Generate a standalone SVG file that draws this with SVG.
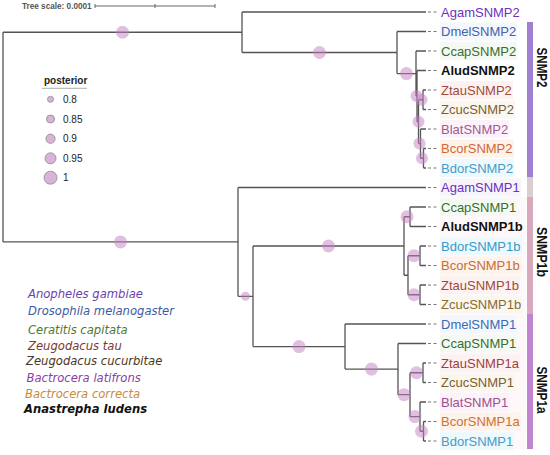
<svg xmlns="http://www.w3.org/2000/svg" width="550" height="455" viewBox="0 0 550 455">
<style>
.br{fill:none;stroke:#555;stroke-width:1.3}
.ds{fill:none;stroke:#777;stroke-width:1;stroke-dasharray:3 2.5}
.pp{fill:#c27fc2;fill-opacity:0.5}
.lg{fill:#d9b3d9;stroke:#8a8a8a;stroke-width:0.8}
.lf{font-family:"Liberation Sans",Arial,sans-serif;font-size:13px}
.bd{font-weight:bold}
.sp{font-family:"DejaVu Sans",sans-serif;font-size:11.6px;font-style:italic}
.lt{font-family:"Liberation Sans",Arial,sans-serif;font-size:10px;fill:#222}
.cl{font-family:"Liberation Sans",Arial,sans-serif;font-size:15px;font-weight:bold;fill:#111}
</style>
<rect width="550" height="455" fill="#fff"/>
<g id="scale">
<text x="22" y="9" font-family="Liberation Sans, Arial, sans-serif" font-size="8.2" font-weight="bold" fill="#555">Tree scale: 0.0001</text>
<path d="M95 6 H215 M95 4 V8 M155 4 V8 M215 4 V8" fill="none" stroke="#666" stroke-width="1"/>
</g>
<g id="label-backgrounds">
<rect x="440" y="197" width="86" height="252" fill="#fef8fa"/>
<rect x="440" y="22.5" width="77" height="18" fill="#f4f7fc"/>
<rect x="440" y="42" width="77" height="18" fill="#f5f9f3"/>
<rect x="440" y="81" width="73" height="18" fill="#fdf2f2"/>
<rect x="440" y="100.5" width="75" height="18" fill="#faf7f1"/>
<rect x="440" y="120" width="69" height="18" fill="#fcf3fa"/>
<rect x="440" y="139.5" width="74" height="18" fill="#fdf3ea"/>
<rect x="440" y="159" width="74" height="18" fill="#edf9fc"/>
<rect x="440" y="178.5" width="81" height="18" fill="#f7f4fc"/>
<rect x="440" y="198" width="77" height="18" fill="#f5f9f3"/>
<rect x="440" y="237" width="82" height="18" fill="#edf9fc"/>
<rect x="440" y="256.5" width="81" height="18" fill="#fdf3ea"/>
<rect x="440" y="276" width="80" height="18" fill="#fdf2f2"/>
<rect x="440" y="295.5" width="82" height="18" fill="#faf7f1"/>
<rect x="440" y="315" width="77" height="18" fill="#f4f7fc"/>
<rect x="440" y="334.5" width="77" height="18" fill="#f5f9f3"/>
<rect x="440" y="354" width="80" height="18" fill="#fdf2f2"/>
<rect x="440" y="373.5" width="75" height="18" fill="#faf7f1"/>
<rect x="440" y="393" width="69" height="18" fill="#fcf3fa"/>
<rect x="440" y="412.5" width="81" height="18" fill="#fdf3ea"/>
<rect x="440" y="432" width="74" height="18" fill="#edf9fc"/>
</g>
<g id="connectors">
<path class="br" d="M3 32.25 V241.9 M3 32.25 H242 M242 12 V52.5 M242 12 H426 M242 52.5 H397 M397 31.5 V73.55 M397 31.5 H426 M397 73.55 H416 M416 51 V96.1 M416 51 H426 M416 96.1 H417 M417 70.5 V121.7 M417 70.5 H426 M417 121.7 H418.5 M418.5 99.75 V143.6 M418.5 99.75 H423 M423 90 V109.5 M423 90 H426 M423 109.5 H426 M418.5 143.6 H420.5 M420.5 129 V158.25 M420.5 129 H426 M420.5 158.25 H423.5 M423.5 148.5 V168 M423.5 148.5 H426 M423.5 168 H426"/>
<path class="br" d="M3 241.9 H238 M238 187.5 V296.3 M238 187.5 H426 M238 296.3 H253 M253 246 V346.55 M253 246 H404 M404 216.75 V275.25 M404 216.75 H410 M410 207 V226.5 M410 207 H426 M410 226.5 H426 M404 275.25 H408 M408 255.75 V294.75 M408 255.75 H420 M420 246 V265.5 M420 246 H426 M420 265.5 H426 M408 294.75 H420 M420 285 V304.5 M420 285 H426 M420 304.5 H426 M253 346.55 H345 M345 324 V369.1 M345 324 H426 M345 369.1 H398 M398 343.5 V394.7 M398 343.5 H426 M398 394.7 H410 M410 372.75 V416.6 M410 372.75 H423 M423 363 V382.5 M423 363 H426 M423 382.5 H426 M410 416.6 H420 M420 402 V431.25 M420 402 H426 M420 431.25 H423.5 M423.5 421.5 V441 M423.5 421.5 H426 M423.5 441 H426"/>
<path class="ds" d="M428 12 H439 M428 31.5 H439 M428 51 H439 M428 70.5 H439 M428 90 H439 M428 109.5 H439 M428 129 H439 M428 148.5 H439 M428 168 H439 M428 187.5 H439 M428 207 H439 M428 226.5 H439 M428 246 H439 M428 265.5 H439 M428 285 H439 M428 304.5 H439 M428 324 H439 M428 343.5 H439 M428 363 H439 M428 382.5 H439 M428 402 H439 M428 421.5 H439 M428 441 H439"/>
</g>
<g id="support">
<circle class="pp" cx="122.5" cy="32.25" r="6.5"/>
<circle class="pp" cx="319.5" cy="52.5" r="6.5"/>
<circle class="pp" cx="406.5" cy="73.55" r="6.5"/>
<circle class="pp" cx="416.5" cy="96.1" r="6"/>
<circle class="pp" cx="418.5" cy="121.7" r="6"/>
<circle class="pp" cx="421.5" cy="99.75" r="6"/>
<circle class="pp" cx="419.5" cy="143.6" r="6"/>
<circle class="pp" cx="422" cy="158.25" r="6"/>
<circle class="pp" cx="120.5" cy="241.9" r="6.5"/>
<circle class="pp" cx="245.5" cy="296.3" r="4.5"/>
<circle class="pp" cx="328.5" cy="246" r="6.5"/>
<circle class="pp" cx="299" cy="346.55" r="6.5"/>
<circle class="pp" cx="407" cy="216.75" r="6.5"/>
<circle class="pp" cx="414" cy="255.75" r="6.5"/>
<circle class="pp" cx="414" cy="294.75" r="6.5"/>
<circle class="pp" cx="371.5" cy="369.1" r="6.5"/>
<circle class="pp" cx="404" cy="394.7" r="6.5"/>
<circle class="pp" cx="416.5" cy="372.75" r="6.5"/>
<circle class="pp" cx="415" cy="416.6" r="6.5"/>
<circle class="pp" cx="421.5" cy="431.25" r="6.5"/>
</g>
<g id="leaves">
<text class="lf" x="441" y="16.6" fill="#7030c0">AgamSNMP2</text>
<text class="lf" x="441" y="36.1" fill="#4262ac">DmelSNMP2</text>
<text class="lf" x="441" y="55.6" fill="#3a6e2a">CcapSNMP2</text>
<text class="lf bd" x="441" y="75.1" fill="#111">AludSNMP2</text>
<text class="lf" x="441" y="94.6" fill="#a04c36">ZtauSNMP2</text>
<text class="lf" x="441" y="114.1" fill="#7a6030">ZcucSNMP2</text>
<text class="lf" x="441" y="133.6" fill="#a05a90">BlatSNMP2</text>
<text class="lf" x="441" y="153.1" fill="#d0683a">BcorSNMP2</text>
<text class="lf" x="441" y="172.6" fill="#4a9ac8">BdorSNMP2</text>
<text class="lf" x="441" y="192.1" fill="#6a30c0">AgamSNMP1</text>
<text class="lf" x="441" y="211.6" fill="#3a6e2a">CcapSNMP1</text>
<text class="lf bd" x="441" y="231.1" fill="#111">AludSNMP1b</text>
<text class="lf" x="441" y="250.6" fill="#3a9ac8">BdorSNMP1b</text>
<text class="lf" x="441" y="270.1" fill="#c86c3a">BcorSNMP1b</text>
<text class="lf" x="441" y="289.6" fill="#a04a3a">ZtauSNMP1b</text>
<text class="lf" x="441" y="309.1" fill="#8a6a30">ZcucSNMP1b</text>
<text class="lf" x="441" y="328.6" fill="#3a6ab0">DmelSNMP1</text>
<text class="lf" x="441" y="348.1" fill="#3a6e2a">CcapSNMP1</text>
<text class="lf" x="441" y="367.6" fill="#a04040">ZtauSNMP1a</text>
<text class="lf" x="441" y="387.1" fill="#7a6030">ZcucSNMP1</text>
<text class="lf" x="441" y="406.6" fill="#a05090">BlatSNMP1</text>
<text class="lf" x="441" y="426.1" fill="#d07030">BcorSNMP1a</text>
<text class="lf" x="441" y="445.6" fill="#4a9ac8">BdorSNMP1</text>
</g>
<g id="clade-SNMP2">
<rect x="527" y="22" width="6" height="155.5" fill="#a080d0"/>
<text class="cl" transform="translate(537,67.5) rotate(90)" text-anchor="middle" textLength="40" lengthAdjust="spacingAndGlyphs">SNMP2</text>
</g>
<g id="clade-SNMP1">
<rect x="527" y="177.5" width="6" height="19.5" fill="#dccdd2"/>
</g>
<g id="clade-SNMP1b">
<rect x="527" y="197" width="6" height="117" fill="#d8a8bc"/>
<text class="cl" transform="translate(537,252) rotate(90)" text-anchor="middle" textLength="50" lengthAdjust="spacingAndGlyphs">SNMP1b</text>
</g>
<g id="clade-SNMP1a">
<rect x="527" y="314" width="6" height="135" fill="#c084d0"/>
<text class="cl" transform="translate(537,390) rotate(90)" text-anchor="middle" textLength="47" lengthAdjust="spacingAndGlyphs">SNMP1a</text>
</g>
<g id="posterior-legend">
<text x="44" y="83.5" font-family="Liberation Sans, Arial, sans-serif" font-size="10" font-weight="bold" fill="#222">posterior</text>
<path d="M42 88.3 H87" stroke="#999" stroke-width="0.8"/>
<circle class="lg" cx="50.5" cy="99.3" r="3"/>
<text class="lt" x="63" y="103">0.8</text>
<circle class="lg" cx="50.5" cy="119" r="4"/>
<text class="lt" x="63" y="122.7">0.85</text>
<circle class="lg" cx="50.5" cy="138.7" r="4.6"/>
<text class="lt" x="63" y="142.4">0.9</text>
<circle class="lg" cx="50.5" cy="158.3" r="5.5"/>
<text class="lt" x="63" y="162">0.95</text>
<circle class="lg" cx="50.5" cy="177.7" r="6.5"/>
<text class="lt" x="63" y="181.4">1</text>
</g>
<g id="species-legend">
<text class="sp" x="28" y="298" fill="#6b3fb0">Anopheles gambiae</text>
<text class="sp" x="28" y="315" fill="#3c5aa0">Drosophila melanogaster</text>
<text class="sp" x="28" y="333.5" fill="#4a7a30">Ceratitis capitata</text>
<text class="sp" x="28" y="350" fill="#7a3a30">Zeugodacus tau</text>
<text class="sp" x="26" y="365" fill="#4a3520">Zeugodacus cucurbitae</text>
<text class="sp" x="26.5" y="381.5" fill="#8a40a8">Bactrocera latifrons</text>
<text class="sp" x="25" y="397.5" fill="#c88a40">Bactrocera correcta</text>
<text class="sp" x="24" y="412.5" fill="#111" font-weight="bold">Anastrepha ludens</text>
</g>
</svg>
